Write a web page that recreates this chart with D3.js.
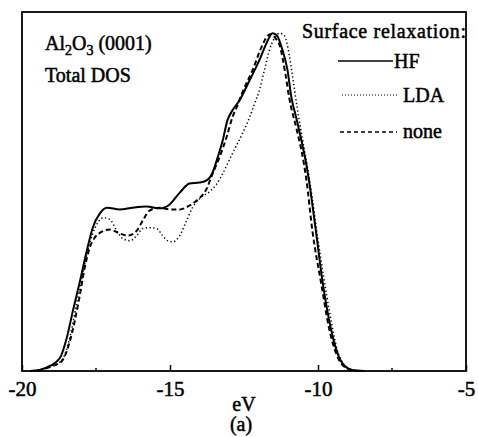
<!DOCTYPE html>
<html>
<head>
<meta charset="utf-8">
<script src="https://cdn.jsdelivr.net/npm/d3@7"></script>
<style>
  html, body { margin: 0; padding: 0; background: #fff; }
  svg { display: block; }
</style>
</head>
<body>
<svg id="chart" width="478" height="437"></svg>
<script>
// ---- data (energy in eV, DOS in arbitrary units 0..100) ----
const hfE = [-19.73,-19.39,-19.06,-18.72,-18.48,-18.28,-18.04,-17.81,-17.61,-17.37,-17.13,-16.70,-16.26,-15.79,-15.35,-15.01,-14.67,-14.34,-14.00,-13.76,-13.56,-13.39,-13.22,-13.06,-12.89,-12.65,-12.31,-11.98,-11.74,-11.54,-11.40,-11.20,-11.03,-10.90,-10.73,-10.56,-10.42,-10.29,-10.06,-9.85,-9.62,-9.38,-9.18,-8.84,-8.44];
const hfDOS = [0,0.3,1.4,3.6,9.5,16.8,25.1,33.5,39.9,43.9,45.5,45.0,45.5,45.8,45.3,46.4,49.7,52.2,52.5,53.1,55.3,59.5,64.2,69.8,72.6,75.4,81.0,86.6,91.3,94.1,93.6,89.4,83.8,76.3,70.4,64.2,58.7,52.2,38.3,25.1,14.0,5.9,2.2,0.3,0];

const ldaE = [-19.73,-19.39,-19.06,-18.65,-18.38,-18.15,-17.94,-17.78,-17.61,-17.44,-17.27,-17.03,-16.80,-16.60,-16.36,-16.12,-15.92,-15.69,-15.45,-15.25,-15.08,-14.91,-14.67,-14.44,-14.24,-14.00,-13.66,-13.43,-13.22,-12.89,-12.55,-12.31,-12.15,-11.98,-11.81,-11.64,-11.47,-11.30,-11.13,-10.97,-10.83,-10.70,-10.53,-10.36,-10.19,-10.02,-9.82,-9.58,-9.35,-9.08,-8.74];
const ldaDOS = [0,0.3,1.3,3.1,9.5,19.0,27.4,33.5,38.3,41.3,42.7,42.2,39.1,36.9,36.3,37.7,39.7,39.9,39.7,37.7,36.3,36.0,37.7,41.9,45.5,48.0,50.0,52.0,55.0,60.6,66.2,70.7,74.3,78.2,83.8,89.4,92.7,94.1,93.3,88.0,80.4,73.2,64.8,57.0,48.0,37.7,26.8,15.1,5.9,1.4,0];

const noneE = [-19.73,-19.39,-19.06,-18.65,-18.38,-18.08,-17.88,-17.71,-17.54,-17.37,-17.03,-16.70,-16.43,-16.12,-15.92,-15.69,-15.35,-15.01,-14.67,-14.34,-14.10,-13.76,-13.56,-13.33,-13.09,-12.89,-12.72,-12.55,-12.21,-11.91,-11.71,-11.57,-11.44,-11.30,-11.10,-10.97,-10.73,-10.56,-10.39,-10.19,-9.89,-9.62,-9.38,-9.04,-8.71];
const noneDOS = [0,0.3,1.1,2.8,8.4,19.6,28.8,34.4,37.2,38.5,39.4,38.3,37.7,39.1,41.9,44.7,45.5,45.0,45.0,46.1,47.5,50.8,55.0,59.5,65.1,70.7,74.0,77.7,83.8,90.2,93.3,93.9,92.7,90.8,82.7,76.0,67.6,61.5,53.1,39.1,24.3,11.7,4.7,0.8,0];

const seriesNames = ["HF", "LDA", "none"];
const xTickValues = [-20, -15, -10, -5];
const xMinorTicks = [-17.5, -7.5];
const legendTitle = "Surface relaxation:";
const xLabel = "eV";
const panelLabel = "(a)";

const FONT = "'Liberation Serif', 'Times New Roman', Times, 'DejaVu Serif', serif";
const TXT_STROKE = 0.5;

// ---- layout ----
const svg = d3.select("#chart").attr("font-family", FONT);
const L = 22, R = 466, T = 12, B = 371;
const x = d3.scaleLinear().domain([-20, -5]).range([L, R]);
const y = d3.scaleLinear().domain([0, 100]).range([B, T]);

const series = [
  { name: "HF",   E: hfE,   D: hfDOS,   dash: null,      width: 2.0 },
  { name: "LDA",  E: ldaE,  D: ldaDOS,  dash: "1.3,2.5", width: 1.5 },
  { name: "none", E: noneE, D: noneDOS, dash: "5,3",     width: 2.0 }
];

const line = d3.line()
  .x(d => x(d[0]))
  .y(d => y(d[1]))
  .curve(d3.curveMonotoneX);

svg.append("g").selectAll("path")
  .data(series)
  .join("path")
  .attr("d", s => line(s.E.map((e, i) => [e, s.D[i]])))
  .attr("fill", "none")
  .attr("stroke", "#000")
  .attr("stroke-width", s => s.width)
  .attr("stroke-dasharray", s => s.dash)
  .attr("stroke-linejoin", "round");

// frame
svg.append("rect")
  .attr("x", L).attr("y", T)
  .attr("width", R - L).attr("height", B - T)
  .attr("fill", "none").attr("stroke", "#000").attr("stroke-width", 1.8);

// x axis (ticks inward)
const axis = d3.axisBottom(x)
  .tickValues(xTickValues)
  .tickSize(-6)
  .tickPadding(10)
  .tickFormat(d => String(d));
const gx = svg.append("g").attr("transform", `translate(0,${B})`).call(axis)
  .attr("font-family", FONT).attr("font-size", 21);
gx.select(".domain").remove();
gx.selectAll(".tick line").attr("stroke", "#000").attr("stroke-width", 1.5);
gx.selectAll(".tick text")
  .attr("font-family", FONT)
  .attr("font-size", 21)
  .attr("fill", "#000")
  .attr("stroke", "#000").attr("stroke-width", TXT_STROKE);

// minor ticks
svg.append("g").selectAll("line")
  .data(xMinorTicks)
  .join("line")
  .attr("x1", d => x(d)).attr("x2", d => x(d))
  .attr("y1", B).attr("y2", B - 3)
  .attr("stroke", "#000").attr("stroke-width", 1.5);

// texts
const txt = svg.append("g").attr("font-family", FONT).attr("fill", "#000")
  .attr("stroke", "#000").attr("stroke-width", TXT_STROKE);

const title = txt.append("text").attr("x", 45).attr("y", 50).attr("font-size", 20).attr("font-family", FONT);
title.append("tspan").text("Al");
title.append("tspan").attr("dy", 5).attr("font-size", 14).text("2");
title.append("tspan").attr("dy", -5).text("O");
title.append("tspan").attr("dy", 5).attr("font-size", 14).text("3");
title.append("tspan").attr("dy", -5).text(" (0001)");

txt.append("text").attr("x", 45).attr("y", 82).attr("font-size", 20)
  .attr("font-family", FONT).text("Total DOS");

txt.append("text").attr("x", 302).attr("y", 38).attr("font-size", 20)
  .attr("font-family", FONT)
  .attr("textLength", 164).attr("lengthAdjust", "spacing").text(legendTitle);

const legendItems = [
  { name: seriesNames[0], x1: 338, x2: 393, ly: 61,  tx: 394, ty: 68,  dash: null,  w: 1.5 },
  { name: seriesNames[1], x1: 342, x2: 397, ly: 95,  tx: 403, ty: 102, dash: "1,2", w: 1.2 },
  { name: seriesNames[2], x1: 340, x2: 397, ly: 132, tx: 403, ty: 138, dash: "4,3", w: 1.5 }
];
svg.append("g").selectAll("line").data(legendItems).join("line")
  .attr("x1", d => d.x1).attr("x2", d => d.x2)
  .attr("y1", d => d.ly).attr("y2", d => d.ly)
  .attr("stroke", "#000").attr("stroke-width", d => d.w)
  .attr("stroke-dasharray", d => d.dash);
txt.selectAll("text.leg").data(legendItems).join("text")
  .attr("class", "leg")
  .attr("x", d => d.tx).attr("y", d => d.ty)
  .attr("font-size", 20)
  .attr("font-family", FONT)
  .text(d => d.name);

txt.append("text").attr("x", 244).attr("y", 411).attr("text-anchor", "middle")
  .attr("font-family", FONT).attr("font-size", 20).text(xLabel);
txt.append("text").attr("x", 241).attr("y", 431).attr("text-anchor", "middle")
  .attr("font-family", FONT).attr("font-size", 20).text(panelLabel);
</script>
</body>
</html>
